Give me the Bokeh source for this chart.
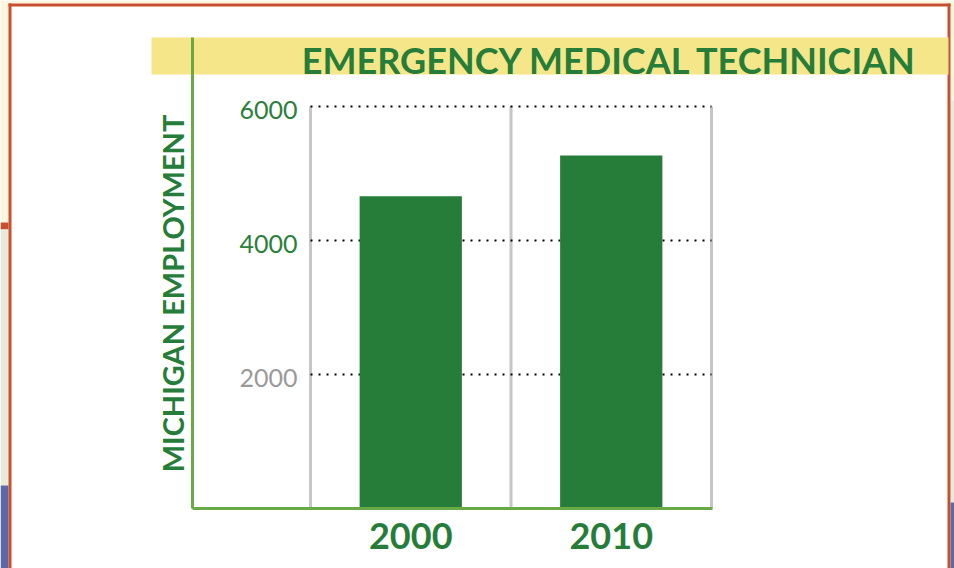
import numpy as np
from bokeh.plotting import figure
from bokeh.models import Range1d, ColumnDataSource
from bokeh.core.properties import value
from bokeh.embed import file_html
from bokeh.resources import INLINE

# ---------------- data ----------------
title_text = "EMERGENCY MEDICAL TECHNICIAN"
y_label = "MICHIGAN EMPLOYMENT"
years = ["2000", "2010"]
employment = [4660, 5270]
y_ticks = [2000, 4000, 6000]
y_tick_labels = ["2000", "4000", "6000"]
y_tick_colors = ["#9a9a9a", "#2a7f3b", "#2a7f3b"]

# ---------------- layout (page pixels) ----------------
W, H = 954, 568
OX, OY = 0, 0                      # page offset of the canvas
PLOT_L, PLOT_R = 310, 711          # category area, left/right
Y0_PX, YMAX_PX = 508, 106          # pixel of value 0 and of y_max
Y_MAX = 6000
AXIS_X = 192
BAND_TOP, BAND_BOT, BAND_L, BAND_R = 37, 74, 151, 948

GREEN = "#267d39"
AXIS_GREEN = "#6aaa45"
YELLOW = "#f5e68a"
GRID_GRAY = "#c6c6c6"
FRAME_RED = "#c9502f"
BEIGE = "#fdf6df"
PALE_GREEN = "#e6ebdb"
BLUE = "#5b69a8"
FONT = "Lato"

n = len(years)
px_per_cat = (PLOT_R - PLOT_L) / n
x_start = (OX - PLOT_L) / px_per_cat
x_end = n + (OX + W - PLOT_R) / px_per_cat
px_per_val = (Y0_PX - YMAX_PX) / Y_MAX
y_start = -(OY + H - Y0_PX) / px_per_val
y_end = (Y0_PX - OY) / px_per_val

p = figure(width=W, height=H, output_backend="svg", toolbar_location=None,
           x_range=Range1d(x_start, x_end), y_range=Range1d(y_start, y_end),
           x_axis_type=None, y_axis_type=None, min_border=0,
           background_fill_color="white", border_fill_color="white")
p.outline_line_color = None
p.grid.visible = False
p.extra_x_ranges = {"px": Range1d(OX, OX + W)}
p.extra_y_ranges = {"px": Range1d(OY + H, OY)}

PX = dict(x_range_name="px", y_range_name="px")

# page background strips outside the frame
p.quad(left=[0, 0, 0, 0, 0, 950, 950, 950],
       right=[W, 8, 8, 8, 8, W, W, W],
       top=[0, 0, 222, 229, 485, 0, 100, 502],
       bottom=[3, 222, 229, 485, H, 100, 502, H],
       fill_color=[BEIGE, BEIGE, FRAME_RED, PALE_GREEN, BLUE, BEIGE, PALE_GREEN, BLUE],
       line_color=None, **PX)

# frame
p.quad(left=[8, 8, 947], right=[11, 950, 950], top=[3, 3, 3], bottom=[H, 6, H],
       fill_color=FRAME_RED, line_color=None, **PX)

# title band
p.quad(left=[BAND_L], right=[BAND_R], top=[BAND_TOP], bottom=[BAND_BOT],
       fill_color=YELLOW, line_color=None, **PX)

# category separator lines
bounds = np.arange(n + 1)
p.segment(x0=bounds, y0=0, x1=bounds, y1=Y_MAX, line_color=GRID_GRAY, line_width=3)

# dotted grid lines
p.segment(x0=[0] * len(y_ticks), y0=y_ticks, x1=[n] * len(y_ticks), y1=y_ticks,
          line_color="black", line_width=2, line_dash="2 6")

# bars
xc = np.arange(n) + 0.5
src = ColumnDataSource(dict(x=xc, top=employment, year=years))
p.vbar(x="x", top="top", bottom=0, width=0.51, source=src,
       fill_color=GREEN, line_color=None)

# axis lines
p.segment(x0=[AXIS_X], y0=[BAND_TOP], x1=[AXIS_X], y1=[Y0_PX],
          line_color=AXIS_GREEN, line_width=3, **PX)
p.segment(x0=[AXIS_X], y0=[Y0_PX], x1=[PLOT_R + 1], y1=[Y0_PX],
          line_color=AXIS_GREEN, line_width=3, **PX)

# y tick labels
tsrc = ColumnDataSource(dict(y=y_ticks, t=y_tick_labels, c=y_tick_colors))
p.text(x=0, y="y", text="t", source=tsrc, text_color="c", x_offset=-13, y_offset=3,
       text_align="right", text_baseline="middle", text_font=value(FONT),
       text_font_size="25px")

# x category labels
p.text(x="x", y=0, text="year", source=src, text_color=GREEN, y_offset=27,
       text_align="center", text_baseline="middle", text_font=value(FONT),
       text_font_size="36px", text_font_style="bold")

# title
p.text(x=[918], y=[74], text=[title_text], text_color=GREEN, text_align="right",
       text_baseline="alphabetic", y_offset=-15, text_font=value(FONT),
       text_font_size="36px", text_font_style="bold", **PX)

# y axis label
p.text(x=[172], y=[293], text=[y_label], text_color=GREEN, angle=np.pi / 2,
       text_align="center", text_baseline="middle", text_font=value(FONT),
       text_font_size="29px", text_font_style="bold", **PX)

open("out.html", "w").write(file_html(p, INLINE))
